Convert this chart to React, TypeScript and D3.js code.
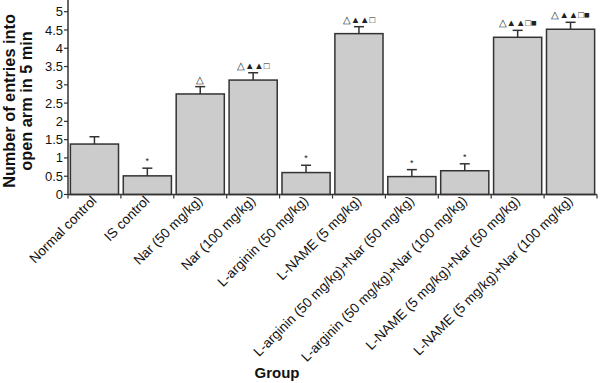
import React from "react";
import * as d3 from "d3";

const categories = [
  "Normal control",
  "IS control",
  "Nar (50 mg/kg)",
  "Nar (100 mg/kg)",
  "L-arginin (50 mg/kg)",
  "L-NAME (5 mg/kg)",
  "L-arginin (50 mg/kg)+Nar (50 mg/kg)",
  "L-arginin (50 mg/kg)+Nar (100 mg/kg)",
  "L-NAME (5 mg/kg)+Nar (50 mg/kg)",
  "L-NAME (5 mg/kg)+Nar (100 mg/kg)",
];
const values = [1.38, 0.51, 2.75, 3.13, 0.6, 4.4, 0.49, 0.65, 4.3, 4.52];
const errors = [0.2, 0.21, 0.2, 0.2, 0.2, 0.19, 0.19, 0.19, 0.19, 0.19];
const marks = ["", "*", "△", "△▲▲□", "*", "△▲▲□", "*", "*", "△▲▲□■", "△▲▲□■"];
const yTicks = [0, 0.5, 1, 1.5, 2, 2.5, 3, 3.5, 4, 4.5, 5];

const W = 600;
const H = 383;
const left = 68;
const right = 597;
const y0 = 194.5;
const y5 = 11.7;

export default function App() {
  const x = d3.scaleBand<string>().domain(categories).range([left, right]).paddingInner(0.09).paddingOuter(0.045);
  const y = d3.scaleLinear().domain([0, 5]).range([y0, y5]);
  const axisColor = "#333";
  const boundaries = d3.range(categories.length + 1).map((i) => left + i * ((right - left) / categories.length));
  return (
    <svg width={W} height={H} style={{ position: "absolute", left: 0, top: 0, fontFamily: "Liberation Sans, Arial, sans-serif" }}>
      {categories.map((c, i) => {
        const bx = x(c)!;
        const bw = x.bandwidth();
        const cx = bx + bw / 2;
        const top = y(values[i]);
        const et = y(values[i] + errors[i]);
        return (
          <g key={c}>
            <rect x={bx} y={top} width={bw} height={y0 - top} fill="#cccccc" stroke={axisColor} strokeWidth={1.5} />
            <line x1={cx} x2={cx} y1={top} y2={et} stroke={axisColor} strokeWidth={1.5} />
            <line x1={cx - 5} x2={cx + 5} y1={et} y2={et} stroke={axisColor} strokeWidth={1.5} />
            {marks[i] && (
              <text x={cx} y={et - 4} textAnchor="middle" fontSize={marks[i] === "*" ? 9 : 9.5} fill="#222">
                {marks[i]}
              </text>
            )}
          </g>
        );
      })}
      <line x1={left} x2={left} y1={0} y2={y0} stroke={axisColor} strokeWidth={1.5} />
      {yTicks.map((t) => (
        <g key={t}>
          <line x1={left - 4} x2={left} y1={y(t)} y2={y(t)} stroke={axisColor} strokeWidth={1.2} />
          <text x={left - 5} y={y(t)} dy="0.35em" textAnchor="end" fontSize={13} fill="#111">
            {t}
          </text>
        </g>
      ))}
      <line x1={left} x2={right} y1={y0} y2={y0} stroke={axisColor} strokeWidth={1.5} />
      {boundaries.map((b, i) => (
        <line key={i} x1={b} x2={b} y1={y0} y2={y0 + 4} stroke={axisColor} strokeWidth={1.2} />
      ))}
      {categories.map((c) => {
        const cx = x(c)! + x.bandwidth() / 2 + 3;
        return (
          <text key={c} transform={`translate(${cx},${y0 + 7}) rotate(-45)`} textAnchor="end" fontSize={13.6} fill="#111">
            {c}
          </text>
        );
      })}
      <text transform={`translate(15,101) rotate(-90)`} textAnchor="middle" fontSize={16.3} fontWeight="bold" fill="#111">
        Number of entries into
      </text>
      <text transform={`translate(32,101) rotate(-90)`} textAnchor="middle" fontSize={16.3} fontWeight="bold" fill="#111">
        open arm in 5 min
      </text>
      <text x={277} y={378} textAnchor="middle" fontSize={15} fontWeight="bold" fill="#111">
        Group
      </text>
    </svg>
  );
}
